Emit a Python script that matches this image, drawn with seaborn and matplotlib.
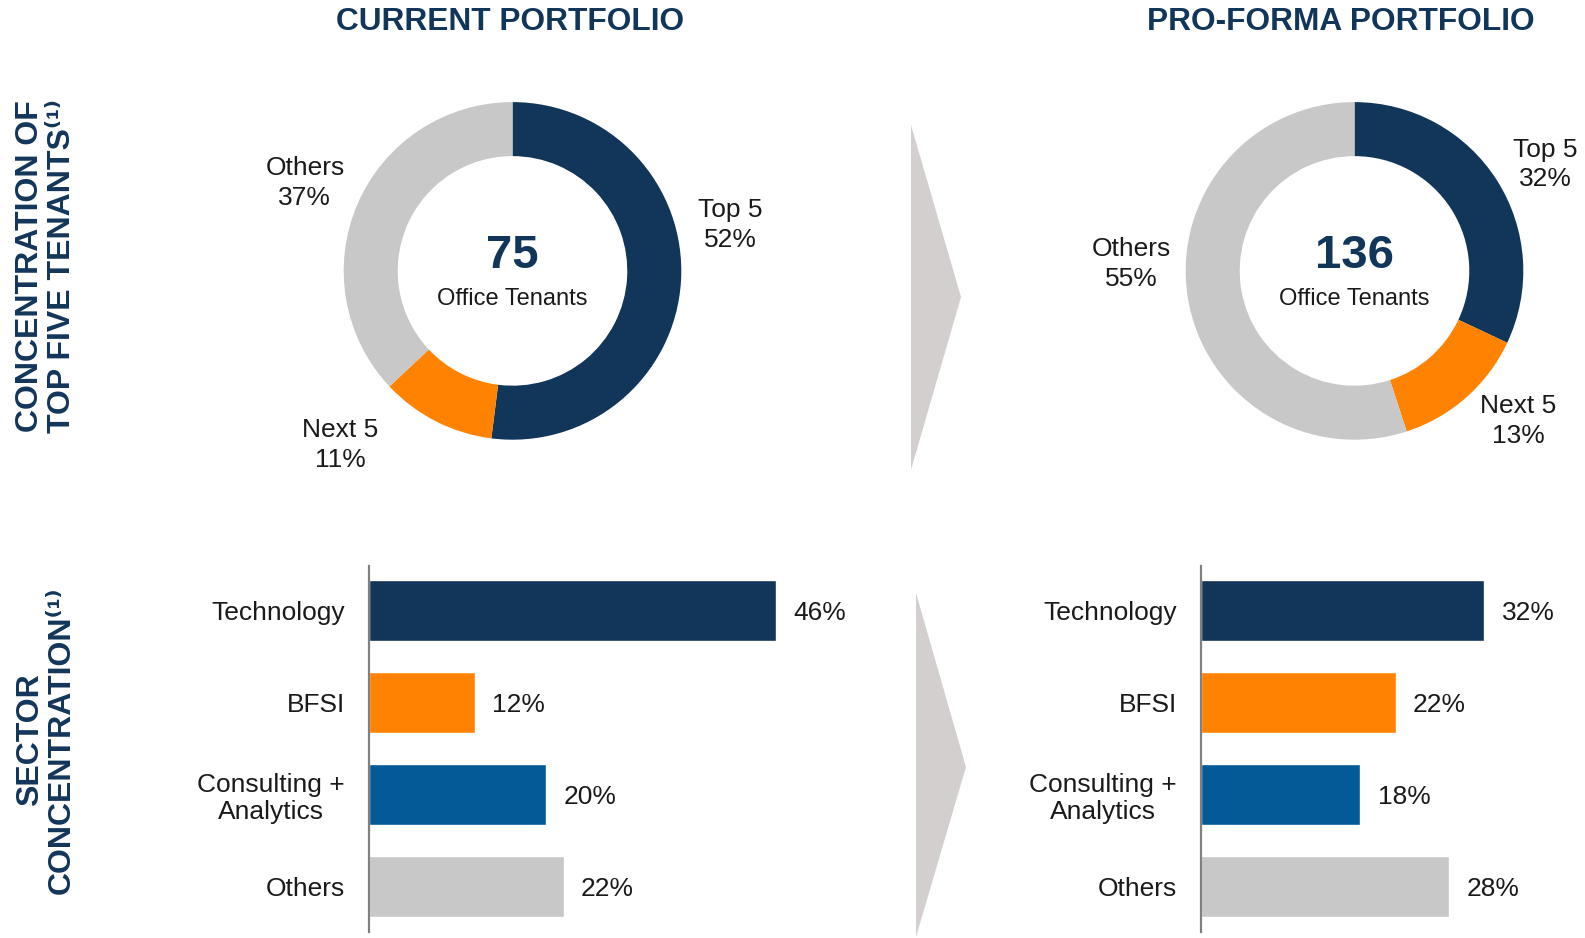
import matplotlib
matplotlib.use("Agg")
import matplotlib.pyplot as plt
import seaborn as sns
from matplotlib.patches import Polygon

# Data
donut_labels = ["Top 5", "Next 5", "Others"]
current_share = [52, 11, 37]
proforma_share = [32, 13, 55]
current_tenants = 75
proforma_tenants = 136

sectors = ["Technology", "BFSI", "Consulting +\nAnalytics", "Others"]
current_sector = [46, 12, 20, 22]
proforma_sector = [32, 22, 18, 28]

NAVY = "#12355a"
ORANGE = "#ff8300"
BLUE = "#035a96"
GRAY = "#c8c8c8"
TEXT = "#1a1a1a"
ARROW = "#d3cfcf"

sns.set_theme(style="white")
plt.rcParams["font.family"] = ["Liberation Sans", "DejaVu Sans"]

W, H = 1585, 938
PX_PER_PCT = 8.855
fig = plt.figure(figsize=(W / 100, H / 100), dpi=100)


def box(x0, y0, w, h):
    return [x0 / W, 1 - (y0 + h) / H, w / W, h / H]


def draw_donut(cx, cy, shares, n_tenants, label_pos):
    R = 168.8
    span = 1.6
    ax = fig.add_axes(box(cx - R * span, cy - R * span, 2 * R * span, 2 * R * span))
    ax.pie(shares, colors=[NAVY, ORANGE, GRAY], startangle=90, counterclock=False,
           wedgeprops=dict(width=0.32, linewidth=0))
    ax.set_xlim(-span, span)
    ax.set_ylim(-span, span)
    ax.set_aspect("equal")
    ax.axis("off")
    ax.text(0, 0.09, str(n_tenants), ha="center", va="center", fontsize=34,
            fontweight="bold", color=NAVY)
    ax.text(0, -0.165, "Office Tenants", ha="center", va="center", fontsize=17, color=TEXT)
    for lab, val, (x, y) in zip(donut_labels, shares, label_pos):
        ax.text(x, y, f"{lab}\n{val}%", ha="center", va="center", fontsize=19,
                color=TEXT, linespacing=1.3)


draw_donut(512.5, 270.9, current_share, current_tenants,
           [(1.29, 0.27), (-1.02, -1.03), (-1.23, 0.52)])
draw_donut(1354.5, 270.9, proforma_share, proforma_tenants,
           [(1.13, 0.63), (0.97, -0.89), (-1.32, 0.04)])


def draw_bars(x0, values, xmax):
    ax = fig.add_axes(box(x0, 566, PX_PER_PCT * xmax, 366))
    sns.barplot(x=values, y=sectors, hue=sectors, palette=[NAVY, ORANGE, BLUE, GRAY],
                legend=False, width=0.66, orient="h", ax=ax, saturation=1)
    ax.set_xlim(0, xmax)
    ax.set_ylim(3.49, -0.48)
    ax.set_xticks([])
    ax.set_xlabel("")
    ax.set_ylabel("")
    for s in ["top", "right", "bottom"]:
        ax.spines[s].set_visible(False)
    ax.spines["left"].set_color("#808080")
    ax.spines["left"].set_linewidth(1.6)
    ax.tick_params(axis="y", length=0, pad=17.5, labelsize=19, labelcolor=TEXT)
    for lbl in ax.get_yticklabels():
        lbl.set_multialignment("center")
        lbl.set_linespacing(1.15)
    for i, v in enumerate(values):
        ax.annotate(f"{v}%", xy=(v, i), xytext=(12.4, 0), textcoords="offset points",
                    ha="left", va="center_baseline", fontsize=19, color=TEXT)


draw_bars(369, current_sector, 50)
draw_bars(1201, proforma_sector, 40)

# column titles
fig.text(510 / W, 1 - 22 / H, "CURRENT PORTFOLIO", ha="center", va="center",
         fontsize=22.8, fontweight="bold", color=NAVY)
fig.text(1341 / W, 1 - 22 / H, "PRO-FORMA PORTFOLIO", ha="center", va="center",
         fontsize=22.8, fontweight="bold", color=NAVY)

# row titles
fig.text(46 / W, 1 - 266 / H, "CONCENTRATION OF\nTOP FIVE TENANTS⁽¹⁾", rotation=90,
         ha="center", va="center", multialignment="center", fontsize=23,
         fontweight="bold", color=NAVY, linespacing=1.05)
fig.text(46 / W, 1 - 740 / H, "SECTOR\nCONCENTRATION⁽¹⁾", rotation=90,
         ha="center", va="center", multialignment="center", fontsize=23,
         fontweight="bold", color=NAVY, linespacing=1.05)

# arrows between columns
for pts in ([(911, 125), (961, 297), (911, 470)], [(916, 593), (966, 767), (916, 937)]):
    fig.patches.append(Polygon([(x / W, 1 - y / H) for x, y in pts], closed=True,
                               transform=fig.transFigure, facecolor=ARROW,
                               edgecolor="none"))

fig.savefig("out.png", dpi=100)
